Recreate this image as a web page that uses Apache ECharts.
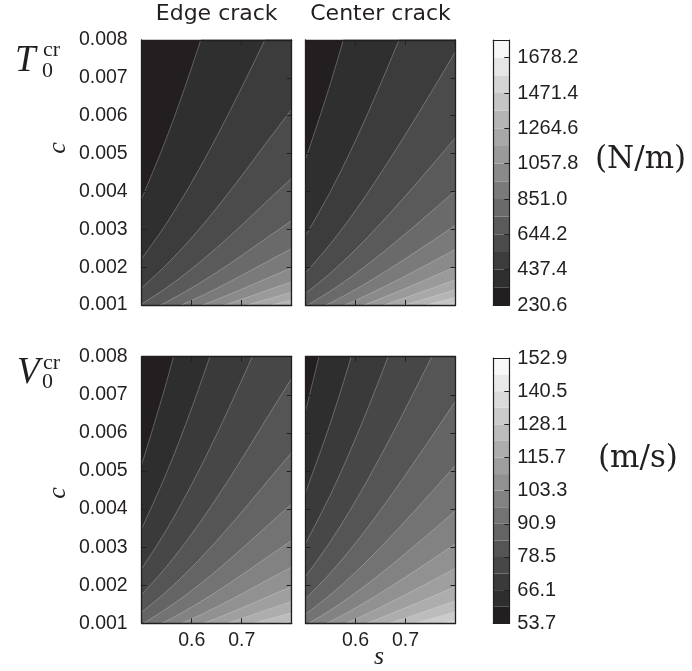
<!DOCTYPE html>
<html><head><meta charset="utf-8">
<script src="https://cdn.jsdelivr.net/npm/echarts@6/dist/echarts.min.js"></script>
<style>html,body{margin:0;padding:0;background:#fff}#c{width:692px;height:671px}</style>
</head><body><div id="c"></div>
<script>
// ---------- data ----------
// s positions at which each contour line's c value was read
const sValues = [0.50, 0.55, 0.60, 0.65, 0.70, 0.75, 0.80];

// T0cr, edge crack: c of contour levels 334.0, 437.4, ... (one row per level)
const edgeT = [
  [0.003813, 0.005427, 0.007279, 0.009341, 0.011567, 0.013890, 0.016180],
  [0.002223, 0.003164, 0.004244, 0.005446, 0.006744, 0.008099, 0.009434],
  [0.001455, 0.002070, 0.002776, 0.003563, 0.004412, 0.005298, 0.006172],
  [0.001025, 0.001459, 0.001957, 0.002511, 0.003109, 0.003734, 0.004350],
  [0.000761, 0.001083, 0.001453, 0.001864, 0.002309, 0.002772, 0.003230],
  [0.000587, 0.000836, 0.001121, 0.001439, 0.001782, 0.002140, 0.002492],
  [0.000467, 0.000665, 0.000891, 0.001144, 0.001417, 0.001701, 0.001982],
  [0.000380, 0.000541, 0.000726, 0.000931, 0.001153, 0.001385, 0.001613],
  [0.000315, 0.000449, 0.000602, 0.000773, 0.000957, 0.001149, 0.001339],
  [0.000266, 0.000379, 0.000508, 0.000652, 0.000807, 0.000969, 0.001129]
];
// T0cr, center crack
const centerT = [
  [0.004848, 0.006860, 0.009165, 0.011722, 0.014445, 0.017275, 0.020167],
  [0.002827, 0.004000, 0.005344, 0.006835, 0.008423, 0.010073, 0.011759],
  [0.001849, 0.002617, 0.003496, 0.004471, 0.005510, 0.006589, 0.007692],
  [0.001303, 0.001844, 0.002464, 0.003151, 0.003883, 0.004644, 0.005421],
  [0.000968, 0.001369, 0.001829, 0.002340, 0.002883, 0.003448, 0.004025],
  [0.000747, 0.001057, 0.001412, 0.001806, 0.002225, 0.002661, 0.003106],
  [0.000594, 0.000840, 0.001122, 0.001436, 0.001769, 0.002116, 0.002470],
  [0.000483, 0.000684, 0.000914, 0.001169, 0.001440, 0.001722, 0.002011],
  [0.000401, 0.000568, 0.000758, 0.000970, 0.001195, 0.001429, 0.001668],
  [0.000338, 0.000479, 0.000639, 0.000818, 0.001008, 0.001205, 0.001407],
  [0.000289, 0.000409, 0.000546, 0.000699, 0.000861, 0.001030, 0.001202],
  [0.000250, 0.000353, 0.000472, 0.000604, 0.000744, 0.000890, 0.001039]
];
// V0cr, edge crack: c of contour levels 59.9, 66.1, ...
const edgeV = [
  [0.005167, 0.007354, 0.009864, 0.012657, 0.015672, 0.018821, 0.021925],
  [0.003485, 0.004959, 0.006652, 0.008535, 0.010569, 0.012693, 0.014785],
  [0.002434, 0.003465, 0.004647, 0.005963, 0.007384, 0.008867, 0.010330],
  [0.001752, 0.002493, 0.003344, 0.004291, 0.005313, 0.006381, 0.007433],
  [0.001292, 0.001839, 0.002467, 0.003166, 0.003920, 0.004708, 0.005484],
  [0.000974, 0.001387, 0.001860, 0.002386, 0.002955, 0.003549, 0.004134],
  [0.000748, 0.001065, 0.001428, 0.001833, 0.002270, 0.002726, 0.003175],
  [0.000584, 0.000831, 0.001115, 0.001431, 0.001772, 0.002128, 0.002479],
  [0.000463, 0.000659, 0.000883, 0.001133, 0.001403, 0.001685, 0.001963],
  [0.000371, 0.000528, 0.000709, 0.000909, 0.001126, 0.001352, 0.001575],
  [0.000301, 0.000429, 0.000575, 0.000738, 0.000914, 0.001097, 0.001278],
  [0.000247, 0.000352, 0.000472, 0.000605, 0.000749, 0.000900, 0.001048]
];
// V0cr, center crack
const centerV = [
  [0.006569, 0.009296, 0.012419, 0.015884, 0.019573, 0.023407, 0.027327],
  [0.004430, 0.006269, 0.008375, 0.010712, 0.013199, 0.015785, 0.018428],
  [0.003095, 0.004380, 0.005851, 0.007483, 0.009221, 0.011028, 0.012875],
  [0.002227, 0.003152, 0.004210, 0.005385, 0.006636, 0.007936, 0.009264],
  [0.001643, 0.002325, 0.003106, 0.003973, 0.004896, 0.005855, 0.006835],
  [0.001239, 0.001753, 0.002342, 0.002995, 0.003691, 0.004414, 0.005153],
  [0.000951, 0.001346, 0.001799, 0.002300, 0.002835, 0.003390, 0.003957],
  [0.000743, 0.001051, 0.001404, 0.001796, 0.002213, 0.002646, 0.003090],
  [0.000588, 0.000832, 0.001112, 0.001422, 0.001753, 0.002096, 0.002447],
  [0.000472, 0.000668, 0.000892, 0.001141, 0.001406, 0.001682, 0.001963],
  [0.000383, 0.000542, 0.000724, 0.000926, 0.001141, 0.001365, 0.001593],
  [0.000314, 0.000444, 0.000594, 0.000759, 0.000936, 0.001119, 0.001306],
  [0.000260, 0.000368, 0.000491, 0.000629, 0.000775, 0.000926, 0.001081]
];

// colour bar levels and tick labels
const levelsT = [230.6, 334.0, 437.4, 540.8, 644.2, 747.6, 851.0, 954.4, 1057.8, 1161.2, 1264.6, 1368.0, 1471.4, 1574.8, 1678.2, 1781.6];
const levelsV = [53.7, 59.9, 66.1, 72.3, 78.5, 84.7, 90.9, 97.1, 103.3, 109.5, 115.7, 121.9, 128.1, 134.3, 140.5, 146.7, 152.9];
const tickLabelsT = ['230.6', '437.4', '644.2', '851.0', '1057.8', '1264.6', '1471.4', '1678.2'];
const tickLabelsV = ['53.7', '66.1', '78.5', '90.9', '103.3', '115.7', '128.1', '140.5', '152.9'];
const sRange = [0.5, 0.8];
const cRange = [0.001, 0.008];
const titles = ['Edge crack', 'Center crack'];

// ---------- styling ----------
const DARK = '#231f20';
const SANS = 'Liberation Sans';
// grey level of each band (dark to light)
const graysT = [35, 47, 60, 75, 90, 106, 122, 138, 154, 168, 181, 197, 213, 230, 248];
const graysV = [35, 46, 58, 71, 85, 100, 115, 130, 145, 159, 173, 188, 203, 218, 233, 248];
const toColor = (g, i) => i === 0 ? 'rgb(35,31,32)' : 'rgb(' + g + ',' + g + ',' + g + ')';
const colorsT = graysT.map(toColor);
const colorsV = graysV.map(toColor);

const grids = [], xAxes = [], yAxes = [], series = [];

function frameAxis(gi, pos, extra) {
  const base = {
    gridIndex: gi, position: pos, z: 10,
    axisLine: { show: true, onZero: false, lineStyle: { color: DARK, width: 1.3 } },
    axisTick: { show: true, inside: true, length: 5, lineStyle: { color: DARK, width: 1 } },
    axisLabel: { show: false },
    splitLine: { show: false }
  };
  return Object.assign(base, extra);
}

function addPanel(box, contours, colors, showX, showY) {
  const gi = grids.length;
  grids.push({ left: box[0], top: box[1], width: box[2], height: box[3], show: true,
    backgroundColor: colors[0], borderWidth: 0, containLabel: false });
  const xi = xAxes.length, yi = yAxes.length;
  const xCommon = { type: 'value', min: sRange[0], max: sRange[1], interval: 0.1 };
  const yCommon = { type: 'value', min: cRange[0], max: cRange[1], interval: 0.001 };
  xAxes.push(frameAxis(gi, 'bottom', Object.assign({}, xCommon, {
    axisLabel: { show: showX, showMinLabel: false, showMaxLabel: false, margin: 7,
      formatter: v => v.toFixed(1), fontSize: 19.5, fontFamily: SANS, color: DARK }
  })));
  xAxes.push(frameAxis(gi, 'top', Object.assign({}, xCommon)));
  yAxes.push(frameAxis(gi, 'left', Object.assign({}, yCommon, {
    axisLabel: { show: showY, margin: 14, formatter: v => v.toFixed(3),
      fontSize: 19.5, fontFamily: SANS, color: DARK }
  })));
  yAxes.push(frameAxis(gi, 'right', Object.assign({}, yCommon)));
  contours.forEach((row, j) => {
    series.push({
      type: 'line', xAxisIndex: xi, yAxisIndex: yi, z: 2 + j * 0.01,
      data: sValues.map((s, i) => [s, row[i]]),
      smooth: 0.35, symbol: 'none', clip: true, silent: true,
      lineStyle: { color: 'rgba(230,230,230,0.5)', width: 0.6 },
      areaStyle: { color: colors[j + 1], opacity: 1, origin: 'start' }
    });
  });
}

function addColorbar(box, levels, labels, colors) {
  const gi = grids.length;
  const n = levels.length - 1;
  grids.push({ left: box[0], top: box[1], width: box[2], height: box[3], containLabel: false });
  const xi = xAxes.length, yi = yAxes.length;
  const edge = pos => ({ gridIndex: gi, type: 'category', data: [''], position: pos, z: 10,
    axisLine: { show: true, onZero: false, lineStyle: { color: DARK, width: 1.2 } },
    axisTick: { show: false }, axisLabel: { show: false } });
  xAxes.push(edge('bottom'));
  xAxes.push(edge('top'));
  yAxes.push({ gridIndex: gi, type: 'value', min: 0, max: n, interval: 2, position: 'right', z: 10,
    axisLine: { show: true, onZero: false, lineStyle: { color: DARK, width: 1.2 } },
    axisTick: { show: true, inside: true, length: 5, lineStyle: { color: DARK, width: 1 } },
    axisLabel: { show: true, margin: 8, fontSize: 20, fontFamily: SANS, color: DARK,
      formatter: v => (labels[v / 2] !== undefined ? labels[v / 2] : '') },
    splitLine: { show: false } });
  yAxes.push({ gridIndex: gi, type: 'value', min: 0, max: n, position: 'left', z: 10,
    axisLine: { show: true, onZero: false, lineStyle: { color: DARK, width: 1.2 } },
    axisTick: { show: false }, axisLabel: { show: false }, splitLine: { show: false } });
  for (let i = 0; i < n; i++) {
    series.push({ type: 'bar', xAxisIndex: xi, yAxisIndex: yi, stack: 'cb' + gi,
      data: [(levels[i + 1] - levels[i]) / (levels[1] - levels[0])],
      barWidth: '100%', silent: true, itemStyle: { color: colors[i] } });
  }
}

addPanel([141.7, 40, 150, 265], edgeT, colorsT, false, true);
addPanel([305.5, 40, 150, 265], centerT, colorsT, false, false);
addPanel([141.7, 356.7, 150, 266.6], edgeV, colorsV, true, true);
addPanel([305.5, 356.7, 150, 266.6], centerV, colorsV, true, false);
addColorbar([493.3, 40, 16, 265], levelsT, tickLabelsT, colorsT);
addColorbar([493.3, 358, 16, 265.3], levelsV, tickLabelsV, colorsV);

function txt(x, y, text, font, rotation) {
  return { type: 'text', x: x, y: y, z: 20, rotation: rotation || 0,
    style: Object.assign({ text: text, fill: DARK, textVerticalAlign: 'middle' }, font) };
}
const graphics = [
  txt(216.7, 14.5, titles[0], { font: '22px "DejaVu Sans"', textAlign: 'center' }),
  txt(380.5, 14.5, titles[1], { font: '22px "DejaVu Sans"', textAlign: 'center' }),
  // T0cr
  txt(15, 61, 'T', { font: 'italic 37px "Liberation Serif"', textAlign: 'left' }),
  txt(43, 50, 'cr', { font: '22px "Liberation Serif"', textAlign: 'left' }),
  txt(42, 71, '0', { font: '22px "Liberation Serif"', textAlign: 'left' }),
  // V0cr
  txt(17, 373.5, 'V', { font: 'italic 37px "Liberation Serif"', textAlign: 'left' }),
  txt(43, 363, 'cr', { font: '22px "Liberation Serif"', textAlign: 'left' }),
  txt(42, 382, '0', { font: '22px "Liberation Serif"', textAlign: 'left' }),
  // units
  txt(595, 160, '(N/m)', { font: '31px "DejaVu Serif"', textAlign: 'left' }),
  txt(598, 459, '(m/s)', { font: '31px "DejaVu Serif"', textAlign: 'left' }),
  // axis names
  txt(379, 657, 's', { font: 'italic 26px "Liberation Serif"', textAlign: 'center' }),
  txt(58, 148, 'c', { font: 'italic 26px "Liberation Serif"', textAlign: 'center' }, Math.PI / 2),
  txt(58, 493, 'c', { font: 'italic 26px "Liberation Serif"', textAlign: 'center' }, Math.PI / 2)
];

const chart = echarts.init(document.getElementById('c'), null, { renderer: 'canvas' });
chart.setOption({
  animation: false,
  backgroundColor: '#ffffff',
  grid: grids, xAxis: xAxes, yAxis: yAxes, series: series,
  graphic: graphics
});
</script></body></html>
